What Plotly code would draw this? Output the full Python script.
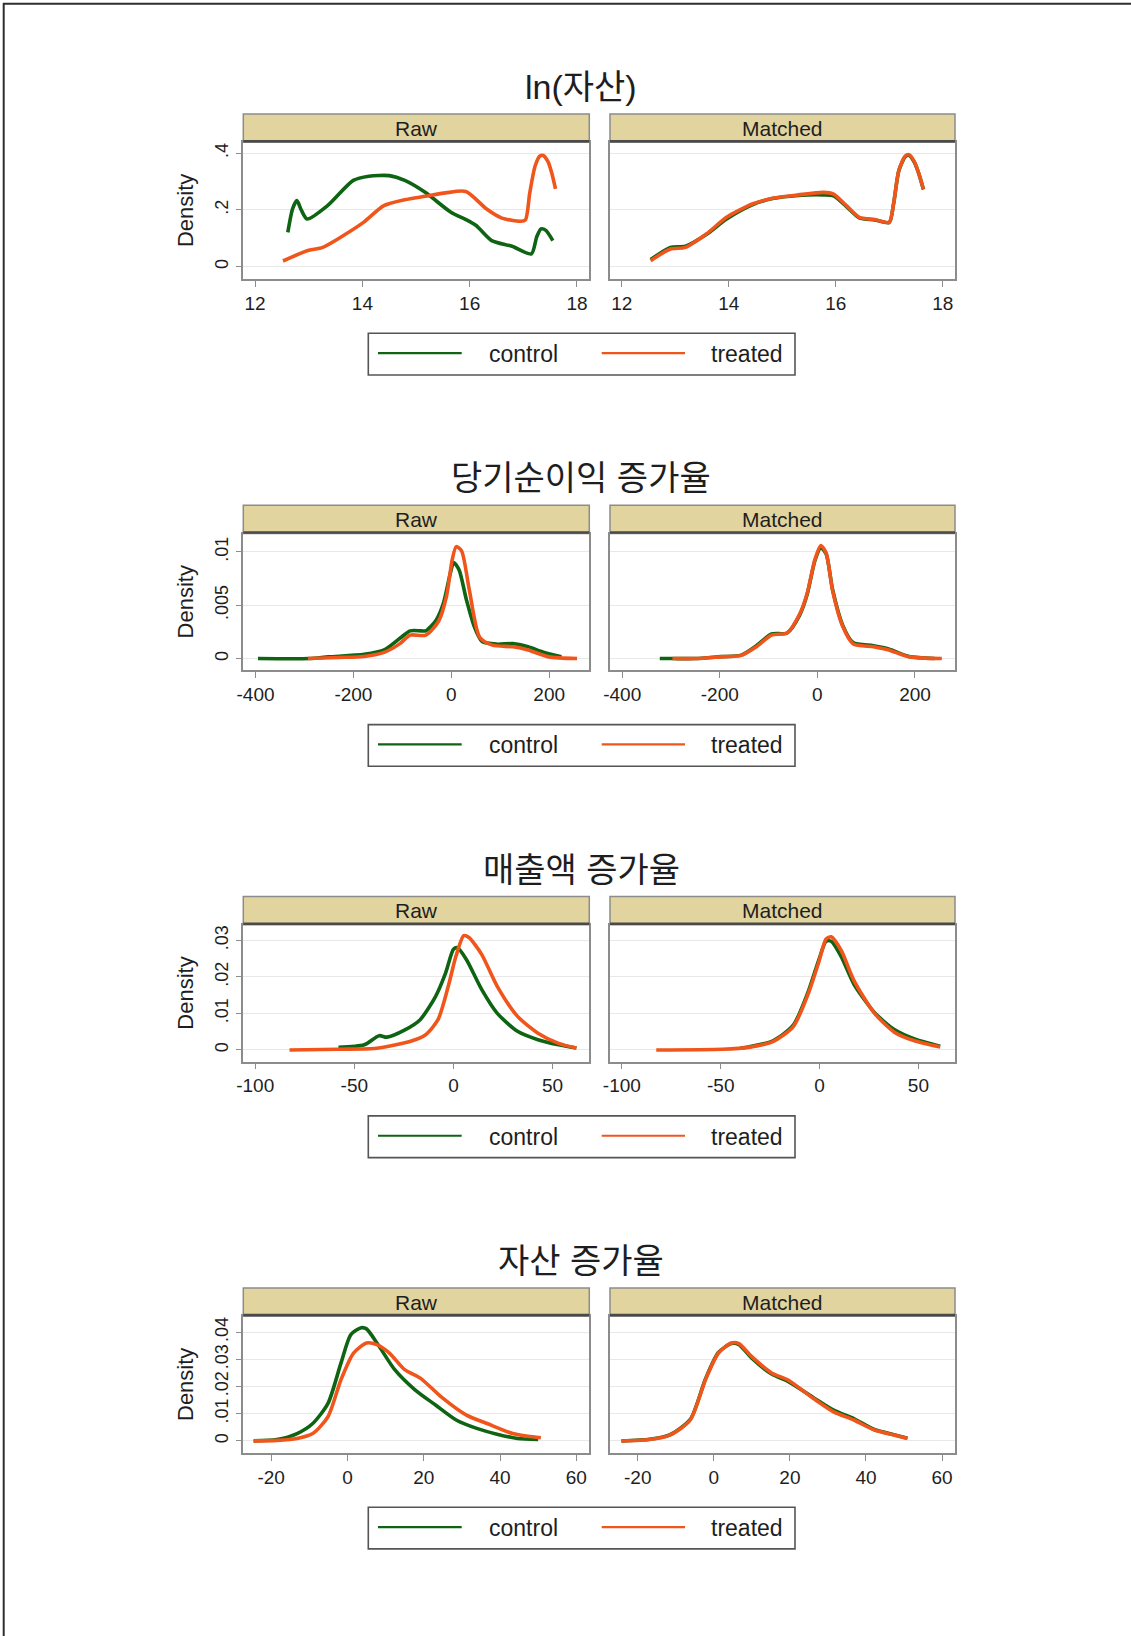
import plotly.graph_objects as go

W, H = 1131, 1636

# ---------------------------------------------------------------------------
# Kernel density estimates (control vs treated), before and after matching
# ---------------------------------------------------------------------------
titles = ["ln(자산)", "당기순이익 증가율", "매출액 증가율", "자산 증가율"]
panel_labels = ["Raw", "Matched"]
group_names = ["control", "treated"]

# ln(자산)
lnasset_raw_control_x = [12.61, 12.70, 12.78, 12.86, 12.97, 13.35, 13.83, 14.12, 14.5, 14.79,
                         15.17, 15.65, 15.93, 16.12, 16.41, 16.79, 17.15, 17.25, 17.33, 17.42, 17.55]
lnasset_raw_control_y = [0.121, 0.205, 0.233, 0.200, 0.168, 0.215, 0.304, 0.319, 0.321, 0.304,
                         0.262, 0.192, 0.166, 0.145, 0.092, 0.072, 0.045, 0.105, 0.133, 0.128, 0.092]
lnasset_raw_treated_x = [12.52, 12.97, 13.26, 13.64, 14.02, 14.4, 14.79, 15.17, 15.55, 15.93,
                         16.31, 16.6, 16.95, 17.04, 17.12, 17.22, 17.31, 17.37, 17.46, 17.53, 17.6]
lnasset_raw_treated_y = [0.020, 0.056, 0.068, 0.109, 0.156, 0.215, 0.236, 0.248, 0.260, 0.265,
                         0.204, 0.171, 0.160, 0.165, 0.260, 0.355, 0.390, 0.392, 0.370, 0.330, 0.274]
lnasset_matched_control_x = [12.54, 12.91, 13.19, 13.58, 13.96, 14.44, 14.82, 15.3, 15.77, 15.96,
                             16.2, 16.44, 16.73, 17.0, 17.08, 17.18, 17.3, 17.37, 17.47, 17.55, 17.64]
lnasset_matched_control_y = [0.025, 0.068, 0.072, 0.113, 0.168, 0.218, 0.240, 0.251, 0.253, 0.250,
                             0.212, 0.172, 0.165, 0.156, 0.220, 0.338, 0.388, 0.393, 0.368, 0.330, 0.272]
lnasset_matched_treated_x = [12.54, 12.91, 13.19, 13.58, 13.96, 14.44, 14.82, 15.3, 15.77, 15.96,
                             16.2, 16.44, 16.73, 17.0, 17.08, 17.18, 17.3, 17.37, 17.47, 17.55, 17.64]
lnasset_matched_treated_y = [0.021, 0.062, 0.068, 0.115, 0.174, 0.221, 0.241, 0.253, 0.262, 0.256,
                             0.215, 0.174, 0.166, 0.157, 0.220, 0.340, 0.390, 0.395, 0.370, 0.330, 0.274]

# 당기순이익 증가율
netinc_raw_control_x = [-395, -290, -251, -178, -136, -105, -84, -62, -52, -31, -16, -2, 5, 16,
                        31, 47, 63, 94, 126, 157, 188, 225]
netinc_raw_control_y = [0.0, 0.0, 0.00016, 0.0004, 0.00085, 0.0019, 0.0026, 0.0026, 0.0026, 0.0036,
                        0.0052, 0.0080, 0.0090, 0.0083, 0.0055, 0.0030, 0.0016, 0.00135, 0.0014,
                        0.0011, 0.0006, 0.00016]
netinc_raw_treated_x = [-293, -230, -178, -136, -105, -84, -52, -26, -10, 2, 10, 21, 37, 58, 84,
                        126, 157, 199, 257]
netinc_raw_treated_y = [0.0, 0.0001, 0.0002, 0.0006, 0.0014, 0.0022, 0.0022, 0.0035, 0.0058, 0.0093,
                        0.0105, 0.0101, 0.0064, 0.0020, 0.00126, 0.0011, 0.0008, 0.00016, 0.0]
netinc_matched_control_x = [-323, -297, -250, -198, -156, -125, -94, -62, -36, -21, -5, 7, 18, 31,
                            52, 73, 115, 146, 188, 240]
netinc_matched_control_y = [0.0, 0.0, 0.0, 0.00018, 0.00032, 0.0012, 0.0023, 0.0024, 0.0041, 0.0060,
                            0.0092, 0.0104, 0.0098, 0.0065, 0.0031, 0.0015, 0.0012, 0.0009, 0.0002, 0.0]
netinc_matched_treated_x = [-297, -250, -198, -156, -125, -94, -62, -36, -21, -5, 7, 18, 31, 52,
                            73, 115, 146, 188, 255]
netinc_matched_treated_y = [0.0, 0.0, 0.00016, 0.0003, 0.0011, 0.0022, 0.0024, 0.0042, 0.0061,
                            0.0093, 0.0106, 0.0099, 0.0064, 0.0030, 0.0014, 0.0011, 0.0008,
                            0.00016, 0.0]

# 매출액 증가율
sales_raw_control_x = [-58, -45, -37.5, -33.6, -24.5, -16.8, -9, -3.9, 0, 2, 6.5, 14.2, 22, 32.3,
                       42.6, 53, 62]
sales_raw_control_y = [0.0007, 0.0014, 0.0039, 0.0035, 0.0055, 0.0083, 0.0147, 0.0212, 0.0276,
                       0.0280, 0.0248, 0.0166, 0.0101, 0.0051, 0.0028, 0.0014, 0.0005]
sales_raw_treated_x = [-82.7, -58, -40, -32, -22, -14.2, -7.8, -2.6, 1.3, 5.2, 7.8, 14.2, 22,
                       32.3, 42.6, 53, 62]
sales_raw_treated_y = [0.0, 0.0002, 0.0004, 0.0011, 0.0023, 0.0041, 0.0083, 0.0175, 0.0258,
                       0.0313, 0.0308, 0.0262, 0.0175, 0.0092, 0.0046, 0.0018, 0.0005]
sales_matched_control_x = [-40, -36, -23.6, -13.3, -5.6, -0.5, 3.3, 5.9, 11, 17.4, 27.7, 38, 48, 61]
sales_matched_control_y = [0.0005, 0.0008, 0.0025, 0.0068, 0.0162, 0.0245, 0.0298, 0.0298, 0.0255,
                           0.0180, 0.0103, 0.0055, 0.0030, 0.0010]
sales_matched_treated_x = [-82.6, -49, -36, -23.6, -13.3, -5.6, -0.5, 3.3, 5.9, 11, 17.4, 27.7,
                           38, 48, 61]
sales_matched_treated_y = [0.0, 0.0002, 0.0007, 0.0023, 0.0064, 0.0156, 0.0239, 0.0304, 0.0310,
                           0.0272, 0.0190, 0.0101, 0.0048, 0.0025, 0.0008]

# 자산 증가율
assetg_raw_control_x = [-24.6, -18.5, -13.2, -9.1, -5.1, -1.7, 0.9, 3.6, 5, 8.3, 12.4, 17.7, 23.1,
                        28.5, 33.9, 39.2, 44.6, 50]
assetg_raw_control_y = [0.0, 0.0005, 0.0027, 0.0064, 0.0138, 0.0286, 0.0391, 0.0416, 0.0412,
                        0.0348, 0.0262, 0.0188, 0.0132, 0.0077, 0.0046, 0.0025, 0.0009, 0.0005]
assetg_raw_treated_x = [-24.6, -18.5, -13.2, -9.1, -5.1, -1.7, 1.6, 5, 7.7, 11, 15, 19.1, 24.5,
                        31.2, 36.6, 43.3, 47.3, 50.7]
assetg_raw_treated_y = [0.0, 0.0002, 0.0009, 0.0027, 0.0089, 0.0225, 0.0323, 0.0360, 0.0354,
                        0.0323, 0.0262, 0.0231, 0.0163, 0.0095, 0.0064, 0.0027, 0.0017, 0.0012]
assetg_matched_control_x = [-24.3, -16.9, -11.6, -6.2, -2.2, 1.2, 4.6, 6.6, 9.9, 15.3, 19.4, 26.1,
                            31.5, 36.8, 42.2, 47.6, 50.9]
assetg_matched_control_y = [0.0, 0.0006, 0.0022, 0.0079, 0.0228, 0.0325, 0.0358, 0.0354, 0.0305,
                            0.0245, 0.0220, 0.0160, 0.0113, 0.0082, 0.0042, 0.0022, 0.0010]
assetg_matched_treated_x = [-24.3, -16.9, -11.6, -6.2, -2.2, 1.2, 4.6, 6.6, 9.9, 15.3, 19.4, 26.1,
                            31.5, 36.8, 42.2, 47.6, 50.9]
assetg_matched_treated_y = [0.0, 0.0005, 0.0021, 0.0077, 0.0225, 0.0323, 0.0360, 0.0358, 0.0311,
                            0.0249, 0.0225, 0.0157, 0.0107, 0.0077, 0.0040, 0.0021, 0.0009]

# axis ticks for each variable (Stata-style labels: hyphen minus, no leading zero)
lnasset_xticks = [12, 14, 16, 18]
lnasset_xticktext = ["12", "14", "16", "18"]
lnasset_yticks = [0, 0.2, 0.4]
lnasset_yticktext = ["0", ".2", ".4"]
netinc_xticks = [-400, -200, 0, 200]
netinc_xticktext = ["-400", "-200", "0", "200"]
netinc_yticks = [0, 0.005, 0.01]
netinc_yticktext = ["0", ".005", ".01"]
sales_xticks = [-100, -50, 0, 50]
sales_xticktext = ["-100", "-50", "0", "50"]
sales_yticks = [0, 0.01, 0.02, 0.03]
sales_yticktext = ["0", ".01", ".02", ".03"]
assetg_xticks = [-20, 0, 20, 40, 60]
assetg_xticktext = ["-20", "0", "20", "40", "60"]
assetg_yticks = [0, 0.01, 0.02, 0.03, 0.04]
assetg_yticktext = ["0", ".01", ".02", ".03", ".04"]

rows = [
    dict(title=titles[0], xr=[11.78, 18.23], yr=[-0.0435, 0.4388],
         xt=lnasset_xticks, xtt=lnasset_xticktext, yt=lnasset_yticks, ytt=lnasset_yticktext,
         curves=[[(lnasset_raw_control_x, lnasset_raw_control_y),
                  (lnasset_raw_treated_x, lnasset_raw_treated_y)],
                 [(lnasset_matched_control_x, lnasset_matched_control_y),
                  (lnasset_matched_treated_x, lnasset_matched_treated_y)]]),
    dict(title=titles[1], xr=[-425, 282], yr=[-0.0011, 0.01173],
         xt=netinc_xticks, xtt=netinc_xticktext, yt=netinc_yticks, ytt=netinc_yticktext,
         curves=[[(netinc_raw_control_x, netinc_raw_control_y),
                  (netinc_raw_treated_x, netinc_raw_treated_y)],
                 [(netinc_matched_control_x, netinc_matched_control_y),
                  (netinc_matched_treated_x, netinc_matched_treated_y)]]),
    dict(title=titles[2], xr=[-106, 68.5], yr=[-0.0032, 0.0343],
         xt=sales_xticks, xtt=sales_xticktext, yt=sales_yticks, ytt=sales_yticktext,
         curves=[[(sales_raw_control_x, sales_raw_control_y),
                  (sales_raw_treated_x, sales_raw_treated_y)],
                 [(sales_matched_control_x, sales_matched_control_y),
                  (sales_matched_treated_x, sales_matched_treated_y)]]),
    dict(title=titles[3], xr=[-27.3, 63.4], yr=[-0.0044, 0.0459],
         xt=assetg_xticks, xtt=assetg_xticktext, yt=assetg_yticks, ytt=assetg_yticktext,
         curves=[[(assetg_raw_control_x, assetg_raw_control_y),
                  (assetg_raw_treated_x, assetg_raw_treated_y)],
                 [(assetg_matched_control_x, assetg_matched_control_y),
                  (assetg_matched_treated_x, assetg_matched_treated_y)]]),
]

# ---------------------------------------------------------------------------
# Styling / layout geometry (pixels)
# ---------------------------------------------------------------------------
FONT = "Liberation Sans, Arial, Noto Sans CJK KR, sans-serif"
TITLE_FONT = "Liberation Sans, Arial, Noto Sans CJK KR, sans-serif"
COLORS = ["#0e6412", "#f0561c"]
STRIP_FILL = "#e2d49e"
FRAME = "#8c8c8c"
TEXT = "#1e1e1e"

ROW_STEP = 391.3
STRIP_TOP = 114.0
PLOT_TOP = 142.2
PLOT_BOT = 279.0
COLS = [(243.3, 589.3), (610.0, 955.0)]
TITLE_Y = 87.0
TITLE_X = 581.0
DENSITY_X = 185.5
LEG_BOX = (368.3, 333.3, 795.0, 375.0)
LEG_LINES = [(378.0, 461.7), (601.7, 685.0)]
LEG_TEXT_X = [487.0, 709.0]


def fx(p):
    return p / W


def fy(p):
    return 1 - p / H


fig = go.Figure()
layout = dict(
    width=W, height=H, autosize=False,
    margin=dict(l=0, r=0, t=0, b=0, pad=0, autoexpand=False),
    paper_bgcolor="white", plot_bgcolor="white",
    font=dict(family=FONT, color=TEXT), showlegend=False,
)
shapes = []
annotations = []

for r, row in enumerate(rows):
    off = r * ROW_STEP
    y_top, y_bot = PLOT_TOP + off, PLOT_BOT + off
    for c in range(2):
        idx = r * 2 + c + 1
        xa = "xaxis" if idx == 1 else f"xaxis{idx}"
        ya = "yaxis" if idx == 1 else f"yaxis{idx}"
        xref = "x" if idx == 1 else f"x{idx}"
        yref = "y" if idx == 1 else f"y{idx}"
        x0, x1 = COLS[c]
        layout[xa] = dict(
            domain=[fx(x0), fx(x1)], range=row["xr"], anchor=yref, automargin=False,
            tickvals=row["xt"], ticktext=row["xtt"], ticks="outside", ticklen=6,
            tickwidth=1.3, tickcolor=FRAME, showline=True, mirror=True,
            linecolor=FRAME, linewidth=1.6, showgrid=False, zeroline=False,
            tickfont=dict(size=19, color=TEXT), ticklabelstandoff=0,
        )
        layout[ya] = dict(
            domain=[fy(y_bot), fy(y_top)], range=row["yr"], anchor=xref, automargin=False,
            tickvals=row["yt"], ticktext=row["ytt"], tickangle=-90,
            ticks="outside" if c == 0 else "", ticklen=6, tickwidth=1.3,
            tickcolor=FRAME, showticklabels=(c == 0), showline=True,
            mirror=True, linecolor=FRAME, linewidth=1.6, showgrid=True,
            gridcolor="#e8e8e8", gridwidth=1.3, zeroline=False,
            tickfont=dict(size=18, color=TEXT), ticklabelstandoff=0,
        )
        for g in range(2):
            cx, cy = row["curves"][c][g]
            fig.add_trace(go.Scatter(
                x=cx, y=cy, mode="lines", name=group_names[g],
                line=dict(color=COLORS[g], width=3.6, shape="spline", smoothing=0.7),
                xaxis=xref, yaxis=yref, hoverinfo="skip",
            ))
        # facet strip
        shapes.append(dict(type="rect", xref="paper", yref="paper",
                           x0=fx(x0), x1=fx(x1), y0=fy(y_top), y1=fy(STRIP_TOP + off),
                           fillcolor=STRIP_FILL, line=dict(color=FRAME, width=1.5)))
        shapes.append(dict(type="line", xref="paper", yref="paper",
                           x0=fx(x0), x1=fx(x1), y0=fy(y_top - 1), y1=fy(y_top - 1),
                           line=dict(color="#4a4a4a", width=2.6)))
        annotations.append(dict(text=panel_labels[c], xref="paper", yref="paper",
                                x=fx((x0 + x1) / 2), y=fy((STRIP_TOP + off + y_top) / 2),
                                xanchor="center", yanchor="middle", showarrow=False,
                                font=dict(size=21, color=TEXT)))
    # row title and y-axis title
    annotations.append(dict(text=row["title"], xref="paper", yref="paper",
                            x=fx(TITLE_X), y=fy(TITLE_Y + off), xanchor="center",
                            yanchor="middle", showarrow=False,
                            font=dict(family=TITLE_FONT, size=34, color=TEXT)))
    annotations.append(dict(text="Density", xref="paper", yref="paper",
                            x=fx(DENSITY_X), y=fy((y_top + y_bot) / 2), xanchor="center",
                            yanchor="middle", textangle=-90, showarrow=False,
                            font=dict(size=22, color=TEXT)))
    # legend box for the row
    bx0, by0, bx1, by1 = LEG_BOX
    shapes.append(dict(type="rect", xref="paper", yref="paper",
                       x0=fx(bx0), x1=fx(bx1), y0=fy(by1 + off), y1=fy(by0 + off),
                       fillcolor="white", line=dict(color="#555555", width=1.6)))
    ly = (by0 + by1) / 2 + off
    for g in range(2):
        lx0, lx1 = LEG_LINES[g]
        shapes.append(dict(type="line", xref="paper", yref="paper",
                           x0=fx(lx0), x1=fx(lx1), y0=fy(ly - 1), y1=fy(ly - 1),
                           line=dict(color=COLORS[g], width=2.2)))
        annotations.append(dict(text=group_names[g], xref="paper", yref="paper",
                                x=fx(LEG_TEXT_X[g]), y=fy(ly), xanchor="left",
                                yanchor="middle", showarrow=False,
                                font=dict(size=23, color=TEXT)))

# outer frame edges along the top and left of the page
shapes.append(dict(type="line", xref="paper", yref="paper", x0=fx(3), x1=1,
                   y0=fy(3.7), y1=fy(3.7), line=dict(color="#2e2e2e", width=2)))
shapes.append(dict(type="line", xref="paper", yref="paper", x0=fx(3.7), x1=fx(3.7),
                   y0=0, y1=fy(3), line=dict(color="#2e2e2e", width=2)))

layout["shapes"] = shapes
layout["annotations"] = annotations
fig.update_layout(**layout)
fig.write_html("out.html")
